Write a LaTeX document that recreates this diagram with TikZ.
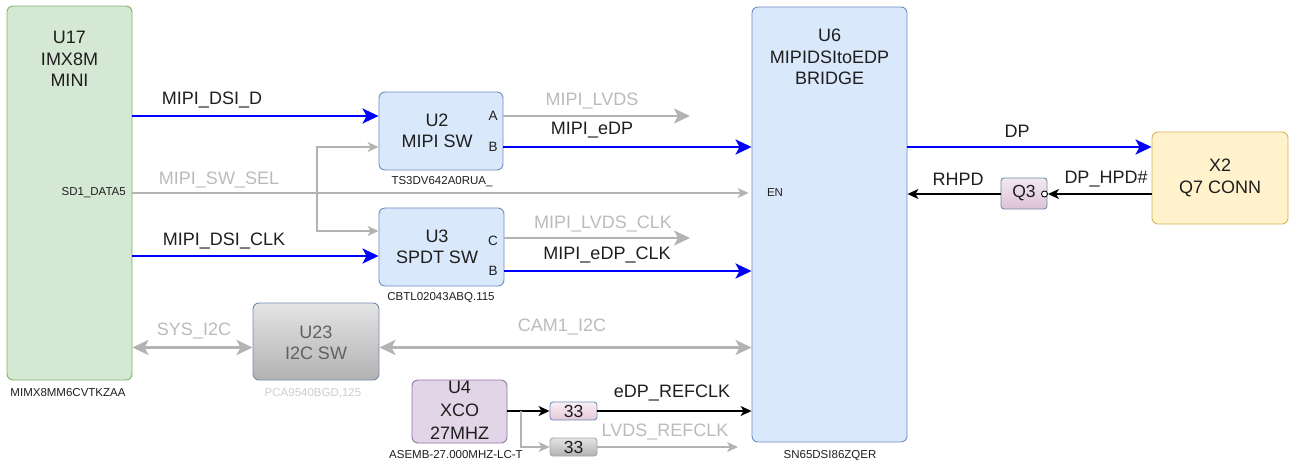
\documentclass[tikz,border=0pt]{standalone}
\usepackage{fontspec}
\setmainfont{Liberation Sans}
\usetikzlibrary{arrows.meta,calc,positioning}

\definecolor{grnfill}{HTML}{D5E8D4}
\definecolor{grnline}{HTML}{82B366}
\definecolor{blufill}{HTML}{DAE8FC}
\definecolor{bluline}{HTML}{6C8EBF}
\definecolor{purfill}{HTML}{E1D5E7}
\definecolor{purline}{HTML}{9673A6}
\definecolor{yelfill}{HTML}{FFF2CC}
\definecolor{yelline}{HTML}{D6B656}
\definecolor{busblue}{HTML}{0000FF}
\definecolor{sigrey}{HTML}{B3B3B3}
\definecolor{txtdark}{HTML}{1E1E1E}
\definecolor{txtgrey}{HTML}{BBBBBB}
\definecolor{txtpale}{HTML}{CCCCCC}
\definecolor{pinktop}{HTML}{F9F0F4}
\definecolor{pinkbot}{HTML}{E6C8D8}
\definecolor{q3top}{HTML}{F2E8F2}
\definecolor{q3bot}{HTML}{DCC2D6}
\definecolor{greytop}{HTML}{E4E4E4}
\definecolor{greybot}{HTML}{B2B2B2}

\begin{document}
\begin{tikzpicture}[x=1pt,y=1pt,yscale=-1,xscale=1,
  lbl/.style={font=\fontsize{18}{21.5}\selectfont, text=txtdark, inner sep=0pt, align=center},
  glbl/.style={lbl, text=txtgrey},
  partno/.style={font=\fontsize{11.5}{13}\selectfont, text=txtdark, inner sep=0pt},
  pinlbl/.style={font=\fontsize{13.5}{15}\selectfont, text=txtdark, inner sep=0pt},
  blk/.style={draw, rounded corners=6pt, inner sep=0pt, line width=0.9pt},
  res/.style={draw, rounded corners=3pt, inner sep=0pt, line width=0.9pt, minimum width=47, minimum height=18,
    font=\fontsize{17.5}{19}\selectfont, text=txtdark},
  bluebus/.style={draw=busblue, line width=2.6pt, -{Stealth[length=16pt,width=15pt,inset=4pt]}},
  greybus/.style={draw=sigrey, line width=2.6pt, -{Stealth[length=16pt,width=15pt,inset=4pt]}},
  greybidir/.style={draw=sigrey, line width=2.6pt, {Stealth[length=16pt,width=15pt,inset=4pt]}-{Stealth[length=16pt,width=15pt,inset=4pt]}},
  greysig/.style={draw=sigrey, line width=1.4pt, -{Stealth[length=11pt,width=10pt,inset=3pt]}},
  blacksig/.style={draw=black, line width=1.4pt, -{Stealth[length=11pt,width=10pt,inset=3pt]}},
]
\useasboundingbox (0,0) rectangle (1292,464);

%Shape: Rectangle [id:u17]
\node[blk, fill=grnfill, draw=grnline, minimum width=125, minimum height=374] (u17) at (69.5,193) {};
%Shape: Rectangle [id:u2]
\node[blk, fill=blufill, draw=bluline, minimum width=124, minimum height=78] (u2) at (441,131) {};
%Shape: Rectangle [id:u3]
\node[blk, fill=blufill, draw=bluline, minimum width=125, minimum height=78] (u3) at (441.5,247) {};
%Shape: Rectangle [id:u23]
\node[blk, draw=bluline!70!gray, top color=greytop, bottom color=greybot, minimum width=126, minimum height=77] (u23) at (316,341.5) {};
%Shape: Rectangle [id:u6]
\node[blk, fill=blufill, draw=bluline, minimum width=155, minimum height=435] (u6) at (829.5,224.5) {};
%Shape: Rectangle [id:u4]
\node[blk, fill=purfill, draw=purline, minimum width=95, minimum height=63] (u4) at (459.5,411.5) {};
%Shape: Rectangle [id:x2]
\node[blk, fill=yelfill, draw=yelline, minimum width=136, minimum height=92] (x2) at (1220,178) {};
%Shape: Rectangle [id:r1]
\node[res, draw=bluline, top color=pinktop, bottom color=pinkbot] (r1) at (573.5,411) {33};
%Shape: Rectangle [id:r2]
\node[res, draw=gray!70, top color=greytop, bottom color=greybot] (r2) at (573.5,447) {33};
%Shape: Rectangle [id:q3]
\node[res, draw=bluline!60!gray, top color=q3top, bottom color=q3bot, minimum width=46, minimum height=31] (q3) at (1024,193.5) {Q3\hspace{8pt}};
%Shape: Ellipse [id:q3bub]
\node[circle, draw=black, fill=white, line width=0.9pt, inner sep=0pt, minimum size=6] (q3bub) at (1044.5,194) {};

% Text Node
\node[lbl] (u17txt) at (69.5,59) {U17\\IMX8M\\MINI};
% Text Node
\node[lbl] (u2txt) at (437,131) {U2\\MIPI SW};
% Text Node
\node[lbl] (u3txt) at (437,247) {U3\\SPDT SW};
% Text Node
\node[lbl, text=black!62] (u23txt) at (316,343) {U23\\I2C SW};
% Text Node
\node[lbl] (u6txt) at (829.5,57) {U6\\MIPIDSItoEDP\\BRIDGE};
% Text Node
\node[lbl, font=\fontsize{18}{23}\selectfont] (u4txt) at (459.5,410) {U4\\XCO\\27MHZ};
% Text Node
\node[lbl] (x2txt) at (1220,178) {X2\\Q7 CONN};
% Text Node
\node[pinlbl] (u2a) at (493,116) {A};
% Text Node
\node[pinlbl] (u2b) at (493,147) {B};
% Text Node
\node[pinlbl] (u3c) at (493,241) {C};
% Text Node
\node[pinlbl] (u3b) at (493,271) {B};
% Text Node
\node[partno, anchor=east] (sd1) at (126,193) {SD1\_DATA5};
% Text Node
\node[partno] (en) at (775,193) {EN};
% Text Node
\node[partno] (u17pn) at (68,393) {MIMX8MM6CVTKZAA};
% Text Node
\node[partno] (u2pn) at (442,182) {TS3DV642A0RUA\_};
% Text Node
\node[partno] (u3pn) at (441,298) {CBTL02043ABQ.115};
% Text Node
\node[partno, text=txtpale] (u23pn) at (313,393) {PCA9540BGD,125};
% Text Node
\node[partno] (u4pn) at (456,455) {ASEMB-27.000MHZ-LC-T};
% Text Node
\node[partno] (u6pn) at (830,456) {SN65DSI86ZQER};

% free ends and branch points
\coordinate (lvdsend) at (690,0);
\coordinate (refend) at (738,0);
\coordinate (selbr) at (317,193);
\coordinate (clkbr) at (521,411);
\coordinate (u3sel) at ($(u3.west)+(0,-16)$);
\coordinate (u3in) at ($(u3.west)+(0,9)$);
\coordinate (u3lv) at ($(u3.east)+(0,-9)$);
\coordinate (i2c) at ($(u23.west)+(0,6)$);
\coordinate (x2dp) at ($(x2.west)+(0,-31)$);
\coordinate (x2hpd) at ($(x2.west)+(0,16)$);

%Straight Lines [id:mipi_dsi_d]
\draw[bluebus] (u17.east |- u2a) -- (u2.west |- u2a);
\node[lbl] (l1) at (212,100) {MIPI\_DSI\_D};
%Straight Lines [id:mipi_lvds]
\draw[greybus] (u2.east |- u2a) -- (lvdsend |- u2a);
\node[glbl] (l2) at (592,101) {MIPI\_LVDS};
%Straight Lines [id:mipi_edp]
\draw[bluebus] (u2.east |- u2b) -- (u6.west |- u2b);
\node[lbl] (l3) at (592,130) {MIPI\_eDP};
%Straight Lines [id:mipi_sw_sel]
\draw[greysig, shorten >=3pt] (u17.east |- sd1) -- (u6.west |- sd1);
\node[glbl] (l4) at (219,180) {MIPI\_SW\_SEL};
\draw[greysig] (selbr) |- (u2.west |- u2b);
\draw[greysig] (selbr) |- (u3sel);
%Straight Lines [id:mipi_dsi_clk]
\draw[bluebus] (u17.east |- u3in) -- (u3in);
\node[lbl] (l5) at (224,241) {MIPI\_DSI\_CLK};
%Straight Lines [id:mipi_lvds_clk]
\draw[greybus] (u3lv) -- (lvdsend |- u3lv);
\node[glbl] (l6) at (603,224) {MIPI\_LVDS\_CLK};
%Straight Lines [id:mipi_edp_clk]
\draw[bluebus] (u3.east |- u3b) -- (u6.west |- u3b);
\node[lbl] (l7) at (607,255) {MIPI\_eDP\_CLK};
%Straight Lines [id:sys_i2c]
\draw[greybidir] (u17.east |- i2c) -- (i2c);
\node[glbl] (l8) at (194,331) {SYS\_I2C};
%Straight Lines [id:cam1_i2c]
\draw[greybidir] (u23.east |- i2c) -- (u6.west |- i2c);
\node[glbl] (l9) at (562,327) {CAM1\_I2C};
%Straight Lines [id:edp_refclk]
\draw[blacksig] (u4.east |- r1) -- (r1.west);
\draw[blacksig] (r1.east) -- (u6.west |- r1);
\node[lbl] (l10) at (672,393) {eDP\_REFCLK};
%Straight Lines [id:lvds_refclk]
\draw[greysig] (clkbr) |- (r2.west);
\draw[greysig] (r2.east) -- (refend |- r2);
\node[glbl] (l11) at (665,432) {LVDS\_REFCLK};
%Straight Lines [id:dp]
\draw[bluebus] (u6.east |- x2dp) -- (x2dp);
\node[lbl] (l12) at (1017,131) {DP};
%Straight Lines [id:dp_hpd]
\draw[blacksig] (x2hpd) -- (q3bub.east);
\node[lbl] (l13) at (1106,179) {DP\_HPD\#};
%Straight Lines [id:rhpd]
\draw[blacksig] (q3.west |- q3bub) -- (u6.east |- q3bub);
\node[lbl] (l14) at (958,179) {RHPD};

\end{tikzpicture}
\end{document}
